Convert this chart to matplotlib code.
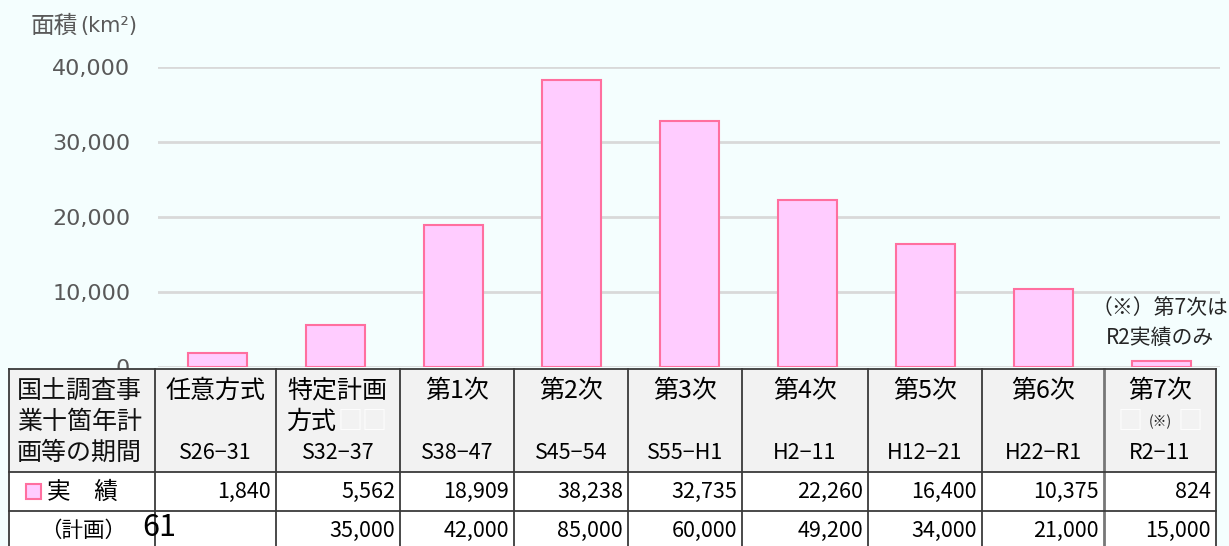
import matplotlib
matplotlib.use("Agg")
import matplotlib.pyplot as plt
from matplotlib.patches import Rectangle

plt.rcParams['font.family'] = ['Noto Sans CJK JP', 'DejaVu Sans']

# data
plan_names = ["任意方式", "特定計画", "第1次", "第2次", "第3次", "第4次", "第5次", "第6次", "第7次"]
periods = ["S26\u221231", "S32\u221237", "S38\u221247", "S45\u221254", "S55\u2212H1",
           "H2\u221211", "H12\u221221", "H22\u2212R1", "R2\u221211"]
actual = [1840, 5562, 18909, 38238, 32735, 22260, 16400, 10375, 824]
planned = [None, 35000, 42000, 85000, 60000, 49200, 34000, 21000, 15000]
yticks = [0, 10000, 20000, 30000, 40000]

W, H = 1229, 546
bg = "#F4FEFE"
bar_face = "#FFCCFF"
bar_edge = "#FF6F9F"
grey_txt = "#595959"

fig = plt.figure(figsize=(W / 100, H / 100), dpi=100)
fig.patch.set_facecolor(bg)

# bar chart area
ax = fig.add_axes([158 / W, 1 - 367 / H, 1062 / W, 300 / H])
ax.set_facecolor(bg)
x = list(range(len(actual)))
ax.bar(x, actual, width=0.5, color=bar_face, edgecolor=bar_edge, linewidth=1.5, zorder=3)
ax.set_xlim(-0.5, len(actual) - 0.5)
ax.set_ylim(0, 40000)
ax.set_yticks(yticks)
ax.set_yticklabels([f"{v:,}" for v in yticks], color=grey_txt, fontsize=16,
                   family="DejaVu Sans")
ax.tick_params(axis="y", length=0, pad=20)
ax.set_xticks([])
ax.grid(axis="y", color="#D9D9D9", linewidth=2, zorder=0)
for s in ax.spines.values():
    s.set_visible(False)

# overlay in pixel coordinates for table and notes
ov = fig.add_axes([0, 0, 1, 1], zorder=5)
ov.set_xlim(0, W)
ov.set_ylim(H, 0)
ov.axis("off")
ov.patch.set_alpha(0)

ov.text(31, 26, "面積", fontsize=17, color=grey_txt, va="center", ha="left")
ov.text(80, 26, "(km²)", fontsize=15, color=grey_txt, va="center", ha="left",
        family="DejaVu Sans")

ov.text(1160, 308, "（※）第7次は", fontsize=15, color="#262626", ha="center", va="center")
ov.text(1160, 338, "R2実績のみ", fontsize=15, color="#262626", ha="center", va="center")

col_edges = [9, 155, 276, 400, 514, 628, 742, 868, 982, 1104, 1216]
row_edges = [369, 472, 511, 560]
line_c = "#3A3A3A"

# cell backgrounds
ov.add_patch(Rectangle((col_edges[0], row_edges[0]), col_edges[-1] - col_edges[0],
                       row_edges[1] - row_edges[0], facecolor="#F2F2F2", edgecolor="none"))
ov.add_patch(Rectangle((col_edges[0], row_edges[1]), col_edges[-1] - col_edges[0],
                       row_edges[-1] - row_edges[1], facecolor="white", edgecolor="none"))
for xe in col_edges:
    lw = 2 if xe == 1104 else 1.3
    c = "#777777" if xe == 1104 else line_c
    ov.plot([xe, xe], [row_edges[0], row_edges[-1]], color=c, lw=lw)
for ye in row_edges[:-1]:
    ov.plot([col_edges[0], col_edges[-1]], [ye, ye], color=line_c, lw=1.3)

fs_j = 18
fs_n = 15.5
line_y = [391, 422, 453]
for ly, s in zip(line_y, ["国土調査事", "業十箇年計", "画等の期間"]):
    ov.text(17, ly, s, fontsize=fs_j, ha="left", va="center", color="#111111")

for i, name in enumerate(plan_names):
    l, r = col_edges[i + 1], col_edges[i + 2]
    cx = (l + r) / 2
    if name == "特定計画":
        ov.text(l + 11, line_y[0], "特定計画", fontsize=fs_j, ha="left", va="center")
        ov.text(l + 11, line_y[1], "方式", fontsize=fs_j, ha="left", va="center")
        ov.text(l + 62, line_y[1], "□□", fontsize=fs_j, ha="left", va="center", color="white")
    else:
        ov.text(cx, line_y[0], name, fontsize=fs_j, ha="center", va="center")
    if name == "第7次":
        ov.text(cx - 30, line_y[1], "□", fontsize=fs_j, ha="center", va="center", color="white")
        ov.text(cx, line_y[1], "(※)", fontsize=10, ha="center", va="center", color="#222222")
        ov.text(cx + 30, line_y[1], "□", fontsize=fs_j, ha="center", va="center", color="white")
    ov.text(cx, line_y[2], periods[i], fontsize=fs_n, ha="center", va="center")
    ov.text(r - 5, 492, f"{actual[i]:,}", fontsize=fs_n, ha="right", va="center")
    if planned[i] is not None:
        ov.text(r - 5, 531, f"{planned[i]:,}", fontsize=fs_n, ha="right", va="center")

ov.add_patch(Rectangle((26, 484), 15, 15, facecolor=bar_face, edgecolor=bar_edge, lw=1.5))
ov.text(47, 492, "実　績", fontsize=17, ha="left", va="center")
ov.text(40, 531, "（計画）", fontsize=15.5, ha="left", va="center")
ov.text(142, 527, "61", fontsize=22, ha="left", va="center", color="black")

fig.savefig("out.png", dpi=100, facecolor=bg)
